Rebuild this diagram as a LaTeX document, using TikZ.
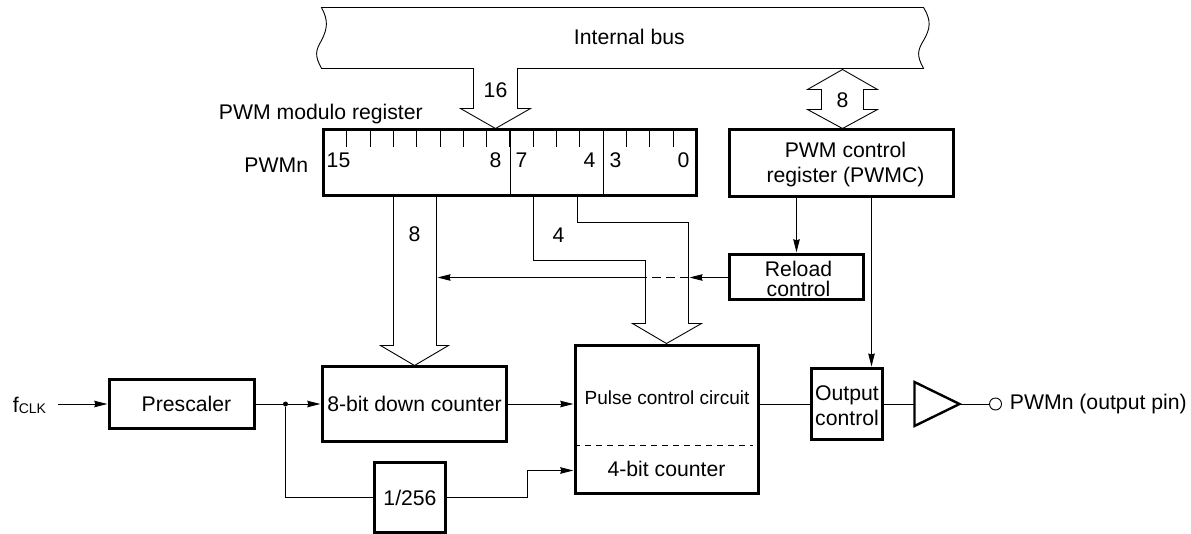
\documentclass[tikz,border=0pt]{standalone}
\usepackage{fontspec}
\setmainfont{Liberation Sans}
\usetikzlibrary{arrows.meta}

\begin{document}
\begin{tikzpicture}[x=1pt,y=-1pt,line width=0.9pt,
		>={Stealth[length=13pt,width=6.5pt,inset=1pt]},
		every node/.style={font=\fontsize{21.2}{25}\selectfont,inner sep=0pt},
		main node/.style={draw,line width=2.4pt,align=center},
		sig/.style={->,shorten >=1pt}]
	\useasboundingbox (-0.5,-0.5) rectangle (1190.5,532.5);

	% bus and hollow arrows
	\draw (517,68) -- (923,68) .. controls (916,55) and (917,50) .. (923,40)
		.. controls (930,28) and (931,20) .. (923,7) -- (321,7)
		.. controls (328,20) and (327,28) .. (321,40)
		.. controls (315,50) and (314,55) .. (321,68)
		-- (473,68) -- (473,108) -- (460,108) -- (495,128) -- (530,108) -- (517,108) -- cycle;
	\node at (573,36) [anchor=west] (busname) {Internal bus};
	\node at (495,90) (w16) {16};
	\draw (842,69) -- (877,89) -- (863,89) -- (863,109) -- (877,109) -- (842,128)
		-- (807,109) -- (821,109) -- (821,89) -- (807,89) -- cycle;
	\node at (842,100) (w8a) {8};

	% register
	\node[main node,minimum width=373pt,minimum height=66pt] at (509.5,162) (reg) {};
	\foreach \k in {1,...,15} {
		\draw (323+23.3*\k,130) -- (323+23.3*\k,146);
	}
	\draw (509.5,130) -- (509.5,195);
	\draw (602.7,130) -- (602.7,195);
	\node at (218,114) [anchor=west] (regname) {PWM modulo register};
	\node at (308,165) [anchor=east] (pwmn) {PWMn};
	\foreach \t/\x/\n in {15/338/b15,8/495/b8,7/521/b7,4/589/b4,3/615/b3,0/683/b0} {
		\node at (\x,160) (\n) {\t};
	}

	% boxes
	\node[main node,minimum width=224pt,minimum height=67pt] at (841,162.5) (pwmc) {\rule{0pt}{19pt}\hspace*{8pt}PWM control\\\hspace*{8pt}register (PWMC)};
	\node[main node,minimum width=134pt,minimum height=45pt,font=\fontsize{21.2}{19.5}\selectfont] at (796,276.5) (reload) {\rule{0pt}{19pt}\hspace*{4pt}Reload\\\hspace*{4pt}control};
	\node[main node,minimum width=145pt,minimum height=49pt] at (181.5,403.5) (presc) {\hspace*{9pt}Prescaler};
	\node[main node,minimum width=184pt,minimum height=75pt] at (414,403.5) (down) {8-bit down counter};
	\node[main node,minimum width=71pt,minimum height=70pt] at (409.5,497) (div) {1/256};
	\node[main node,minimum width=183pt,minimum height=148pt] at (666.5,419) (pulse) {};
	\node[main node,minimum width=71pt,minimum height=71pt] at (846.5,403.5) (outc) {\rule{0pt}{19pt}Output\\control};
	\node at (666.5,397) [font=\fontsize{19}{23}\selectfont] (pulsename) {Pulse control circuit};
	\node at (666,468) (cntname) {4-bit counter};
	\draw[dashed,dash pattern=on 6pt off 5pt] (pulse.west |- 0,445) -- (752,445);
	\draw[line width=2.4pt,line join=miter] (914,381.5) -- (959,403.5) -- (914,425.5) -- cycle;
	\coordinate (buf) at (914,403.5);
	\coordinate (tip) at (958,403.5);
	\node[draw,circle,minimum size=12pt,line width=0.9pt] at (995,403.5) (pin) {};
	\node at (1009,404) [anchor=west] (pinname) {PWMn (output pin)};
	\node at (12,405) [anchor=west] (fclk) {f{\fontsize{14}{14}\selectfont\raisebox{-1pt}{CLK}}};
	\coordinate (clk) at (57,403.5);
	\node[circle,fill,minimum size=5pt] at (285,403.5) (dot) {};

	% hollow arrows out of the register
	\draw (393,196) -- (393,345) -- (380,345) -- (414,365) -- (448,345) -- (436,345) -- (436,196);
	\node at (414,234) (w8b) {8};
	\draw (533,196) -- (533,260) -- (645,260) -- (645,323) -- (632,323) -- (666,343)
		-- (701,323) -- (688,323) -- (688,222) -- (577,222) -- (577,196);
	\node at (558,235) (w4) {4};

	% signals
	\coordinate (cross1) at (688,277);
	\coordinate (cross2) at (645,277);
	\coordinate (shaft) at (436,277);
	\draw[sig] (reload.west |- cross1) -- (cross1);
	\draw[dash pattern=on 9pt off 5pt on 9pt off 5pt] (cross1) -- (cross2);
	\draw[sig] (cross2) -- (shaft);
	\draw[sig] (796,196) -- (reload.north);
	\draw[sig] (871,196) -- (871,367);
	\draw[sig] (clk) -- (presc.west);
	\draw (presc.east) -- (dot);
	\draw[sig] (dot) -- (down.west);
	\draw (dot) |- (div.west);
	\draw[sig] (div.east) -- (527,497) |- (pulse.west |- 0,470);
	\draw[sig] (down.east) -- (pulse.west |- down.east);
	\draw (pulse.east |- outc.west) -- (outc.west);
	\draw (outc.east) -- (buf);
	\draw (tip) -- (pin.west);
\end{tikzpicture}
\end{document}
